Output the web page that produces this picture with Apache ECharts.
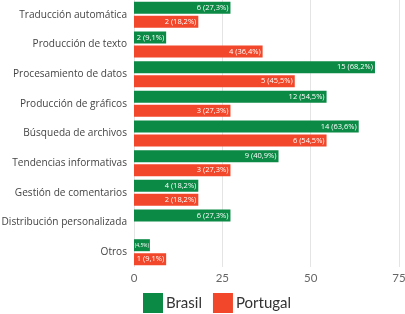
<!DOCTYPE html>
<html><head><meta charset="utf-8">
<script src="https://cdn.jsdelivr.net/npm/echarts@6/dist/echarts.min.js"></script>
<style>html,body{margin:0;padding:0;background:#fff}#c{width:405px;height:314px}</style>
</head><body><div id="c"></div>
<script>
var categories = ["Traducción automática","Producción de texto","Procesamiento de datos","Producción de gráficos","Búsqueda de archivos","Tendencias informativas","Gestión de comentarios","Distribución personalizada","Otros"];
var brasilPct = [27.3, 9.1, 68.2, 54.5, 63.6, 40.9, 18.2, 27.3, 4.5];
var brasilCount = [6, 2, 15, 12, 14, 9, 4, 6, 1];
var portugalPct = [18.2, 36.4, 45.5, 27.3, 54.5, 27.3, 18.2, 0, 9.1];
var portugalCount = [2, 4, 5, 3, 6, 3, 2, 0, 1];
var xTicks = [0, 25, 50, 75];

function fmt(c, p){ return c + " (" + p.toFixed(1).replace(".", ",") + "%)"; }
function buildData(pcts, counts){
  return pcts.map(function(p, i){
    if (p === 0) return {value: null};
    var item = {value: p, label: {formatter: fmt(counts[i], p)}};
    if (p < 6) item.label = {formatter: "(" + p.toFixed(1).replace(".", ",") + "%)", fontSize: 5, distance: 1};
    return item;
  });
}
var chart = echarts.init(document.getElementById('c'), null, {renderer:'canvas'});
chart.setOption({
  animation: false,
  grid: {left: 134, right: 6, top: 0, bottom: 47, containLabel: false, outerBoundsMode: 'none'},
  legend: {
    bottom: 1, left: 143, padding: 0, itemWidth: 20, itemHeight: 20, itemGap: 11,
    icon: 'rect',
    textStyle: {fontFamily: 'Lato', fontSize: 15, color: '#333', padding: [0,0,0,-2]},
    data: ['Brasil','Portugal']
  },
  xAxis: {
    type: 'value', min: 0, max: 75, interval: 25,
    axisLine: {show: false}, axisTick: {show: false},
    splitLine: {lineStyle: {color: '#e4e4e4'}},
    axisLabel: {fontFamily: 'Lato', fontSize: 11.5, color: '#666', margin: 5,
      formatter: function(v){ return xTicks.indexOf(v) >= 0 ? String(v) : ''; }}
  },
  yAxis: {
    type: 'category', data: categories, inverse: true,
    axisLine: {show: false}, axisTick: {show: false},
    axisLabel: {fontFamily: 'Open Sans', fontSize: 10.1, color: '#444', margin: 7}
  },
  series: [
    {name: 'Brasil', type: 'bar', data: buildData(brasilPct, brasilCount),
     barWidth: 12, barGap: '16%',
     itemStyle: {color: '#0b8a45'},
     label: {show: true, position: 'insideRight', distance: 2, color: '#fff', fontSize: 7.5, fontFamily: 'Open Sans'}},
    {name: 'Portugal', type: 'bar', data: buildData(portugalPct, portugalCount),
     barWidth: 12, barGap: '16%',
     itemStyle: {color: '#f2472a'},
     label: {show: true, position: 'insideRight', distance: 2, color: '#fff', fontSize: 7.5, fontFamily: 'Open Sans'}}
  ]
});
</script></body></html>
